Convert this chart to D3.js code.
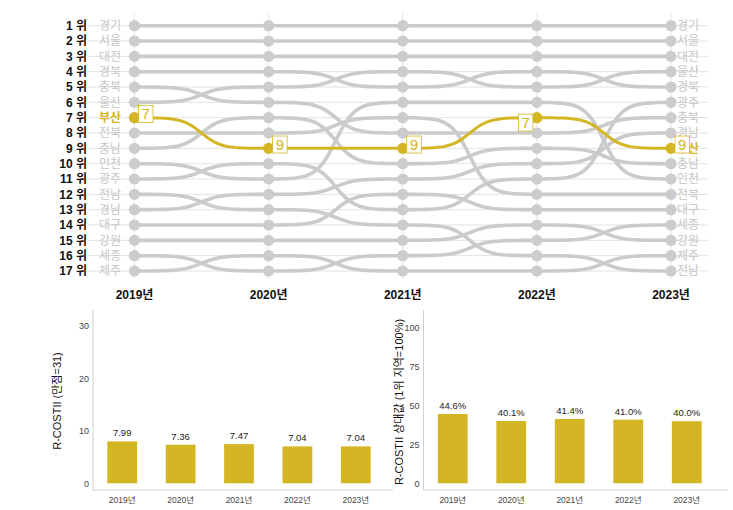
<!DOCTYPE html>
<html><head><meta charset="utf-8">
<script src="https://cdn.jsdelivr.net/npm/d3@7"></script>
<style>
body{margin:0;background:#fff}
svg{display:block}
text{font-family:"Liberation Sans","Noto Sans CJK KR",sans-serif}
</style>
</head><body>
<svg id="c" width="733" height="510"></svg>
<script>
// ---------- DATA ----------
const years = ["2019년","2020년","2021년","2022년","2023년"];
const rank2019 = ["경기","서울","대전","경북","충북","울산","부산","전북","충남","인천","광주","전남","경남","대구","강원","세종","제주"];
const rank2020 = ["경기","서울","대전","경북","울산","충북","충남","전북","부산","광주","인천","경남","전남","대구","강원","제주","세종"];
const rank2021 = ["경기","서울","대전","울산","경북","인천","전북","충북","부산","충남","경남","대구","광주","전남","강원","세종","제주"];
const rank2022 = ["경기","서울","대전","경북","울산","인천","부산","충북","충남","경남","광주","전북","대구","강원","세종","전남","제주"];
const rank2023 = ["경기","서울","대전","울산","경북","광주","충북","경남","부산","충남","인천","전북","대구","세종","강원","제주","전남"];
const rankTickLabels = ["1 위","2 위","3 위","4 위","5 위","6 위","7 위","8 위","9 위","10 위","11 위","12 위","13 위","14 위","15 위","16 위","17 위"];
const highlight = "부산";
const scoreValues = [7.99, 7.36, 7.47, 7.04, 7.04];
const scoreLabels = ["7.99","7.36","7.47","7.04","7.04"];
const scoreTicks = [0, 10, 20, 30];
const relValues = [44.6, 40.1, 41.4, 41.0, 40.0];
const relLabels = ["44.6%","40.1%","41.4%","41.0%","40.0%"];
const relTicks = [0, 25, 50, 75, 100];
const scoreTitle = "R-COSTII (만점=31)";
const relTitle = "R-COSTII 상대값 (1위 지역=100%)";

// ---------- SETUP ----------
const GOLD = "#d4b624", GRAY = "#cbcbcb";
const svg = d3.select("#c");
const ranks = [rank2019, rank2020, rank2021, rank2022, rank2023];
const regions = rank2019.slice();
const x = d3.scalePoint().domain(years).range([134.5, 671]);
const y = d3.scaleLinear().domain([1, 17]).range([25.7, 271]);

const topG = svg.append("g");
topG.selectAll("line.h").data(d3.range(1, 18)).join("line")
  .attr("x1", 88).attr("x2", 708).attr("y1", d => y(d)).attr("y2", d => y(d))
  .attr("stroke", "#e2e2e2").attr("stroke-width", 1);
topG.selectAll("line.v").data(years).join("line")
  .attr("x1", d => x(d)).attr("x2", d => x(d)).attr("y1", 13).attr("y2", 279)
  .attr("stroke", "#e6e6e6").attr("stroke-width", 1);

const series = regions.map(r => ({
  name: r,
  pts: years.map((yr, i) => ({year: yr, rank: ranks[i].indexOf(r) + 1}))
}));

function sigmoidPath(pts) {
  const out = [];
  const k = 7, n = 40;
  const s0 = 1 / (1 + Math.exp(k)), s1 = 1 / (1 + Math.exp(-k));
  for (let i = 0; i < pts.length - 1; i++) {
    const x0 = x(pts[i].year), x1 = x(pts[i + 1].year);
    const y0 = y(pts[i].rank), y1 = y(pts[i + 1].rank);
    for (let j = (i === 0 ? 0 : 1); j <= n; j++) {
      const t = j / n;
      const s = (1 / (1 + Math.exp(-k * (2 * t - 1))) - s0) / (s1 - s0);
      out.push([x0 + (x1 - x0) * t, y0 + (y1 - y0) * s]);
    }
  }
  return d3.line()(out);
}

const others = series.filter(s => s.name !== highlight);
const hl = series.find(s => s.name === highlight);

topG.selectAll("path.gray").data(others).join("path")
  .attr("d", d => sigmoidPath(d.pts)).attr("fill", "none")
  .attr("stroke", GRAY).attr("stroke-width", 3.6);
topG.selectAll("g.gd").data(others).join("g").selectAll("circle")
  .data(d => d.pts).join("circle")
  .attr("cx", d => x(d.year)).attr("cy", d => y(d.rank)).attr("r", 5.6)
  .attr("fill", "#cccccc");

topG.selectAll("text.rk").data(rankTickLabels).join("text")
  .attr("x", 87).attr("y", (d, i) => y(i + 1)).attr("dy", "0.36em")
  .attr("text-anchor", "end").attr("font-size", 12).attr("font-weight", "bold")
  .attr("fill", "#111").text(d => d);

topG.selectAll("text.lr").data(rank2019).join("text")
  .attr("x", 99).attr("y", (d, i) => y(i + 1)).attr("dy", "0.36em")
  .attr("font-size", 12)
  .attr("font-weight", d => d === highlight ? "bold" : "normal")
  .attr("fill", d => d === highlight ? GOLD : "#c6c6c6").text(d => d);
topG.selectAll("text.rr").data(rank2023).join("text")
  .attr("x", 677).attr("y", (d, i) => y(i + 1)).attr("dy", "0.36em")
  .attr("font-size", 12)
  .attr("font-weight", d => d === highlight ? "bold" : "normal")
  .attr("fill", d => d === highlight ? GOLD : "#c6c6c6").text(d => d);

topG.append("path").attr("d", sigmoidPath(hl.pts)).attr("fill", "none")
  .attr("stroke", GOLD).attr("stroke-width", 3);
topG.selectAll("circle.hd").data(hl.pts).join("circle")
  .attr("cx", d => x(d.year)).attr("cy", d => y(d.rank)).attr("r", 5.6)
  .attr("fill", GOLD);
const lab = topG.selectAll("g.lb").data(hl.pts).join("g")
  .attr("transform", (d, i) => {
    const left = i === 3;
    const bx = left ? x(d.year) - 18.5 : x(d.year) + 4;
    const by = y(d.rank) + (left ? 5 : -3.8);
    return `translate(${bx},${by})`;
  });
lab.append("rect").attr("x", 0).attr("y", -8.5).attr("width", 14.5).attr("height", 17)
  .attr("fill", "#fff").attr("stroke", GOLD).attr("stroke-width", 0.8);
lab.append("text").attr("x", 7.25).attr("y", 0).attr("dy", "0.36em")
  .attr("text-anchor", "middle").attr("font-size", 15).attr("fill", GOLD)
  .text(d => d.rank);

topG.selectAll("text.yr").data(years).join("text")
  .attr("x", d => x(d)).attr("y", 295).attr("dy", "0.36em")
  .attr("text-anchor", "middle").attr("font-size", 12).attr("font-weight", "bold")
  .attr("fill", "#111").text(d => d);

// ---------- BAR CHARTS ----------
function barChart(opts) {
  const g = svg.append("g");
  const bx = d3.scaleBand().domain(years).range([opts.x0, opts.x1]).paddingInner(0.49).paddingOuter(0.245);
  const by = d3.scaleLinear().domain([0, opts.max]).range([483.3, opts.topY]);
  g.append("line").attr("x1", opts.axisX).attr("x2", opts.axisX).attr("y1", 310).attr("y2", 490)
    .attr("stroke", "#d0d0d0");
  g.append("line").attr("x1", opts.axisX).attr("x2", opts.axisEnd).attr("y1", 490).attr("y2", 490)
    .attr("stroke", "#d0d0d0");
  g.selectAll("text.yt").data(opts.ticks).join("text")
    .attr("x", opts.axisX - 4).attr("y", d => by(d)).attr("dy", "0.36em")
    .attr("text-anchor", "end").attr("font-size", 9).attr("fill", "#444").text(d => d);
  g.selectAll("rect").data(opts.values).join("rect")
    .attr("x", (d, i) => bx(years[i])).attr("width", bx.bandwidth())
    .attr("y", d => by(d)).attr("height", d => by(0) - by(d)).attr("fill", GOLD);
  g.selectAll("text.vl").data(opts.labels).join("text")
    .attr("x", (d, i) => bx(years[i]) + bx.bandwidth() / 2)
    .attr("y", (d, i) => by(opts.values[i]) - 5)
    .attr("text-anchor", "middle").attr("font-size", 9.5).attr("fill", "#222").text(d => d);
  g.selectAll("text.xt").data(years).join("text")
    .attr("x", d => bx(d) + bx.bandwidth() / 2).attr("y", 500).attr("dy", "0.36em")
    .attr("text-anchor", "middle").attr("font-size", 8.5).attr("fill", "#444").text(d => d);
  g.append("text").attr("transform", `translate(${opts.titleX},${opts.titleY}) rotate(-90)`)
    .attr("text-anchor", "middle").attr("dy", "0.36em").attr("font-size", 11).attr("fill", "#111")
    .text(opts.title);
}
barChart({x0: 93, x1: 385, axisX: 93, axisEnd: 393, max: 30, topY: 326, ticks: scoreTicks,
  values: scoreValues, labels: scoreLabels, title: scoreTitle, titleX: 57, titleY: 401});
barChart({x0: 423.5, x1: 716, axisX: 423.5, axisEnd: 728, max: 100, topY: 328, ticks: relTicks,
  values: relValues, labels: relLabels, title: relTitle, titleX: 399, titleY: 402});
</script>
</body></html>
